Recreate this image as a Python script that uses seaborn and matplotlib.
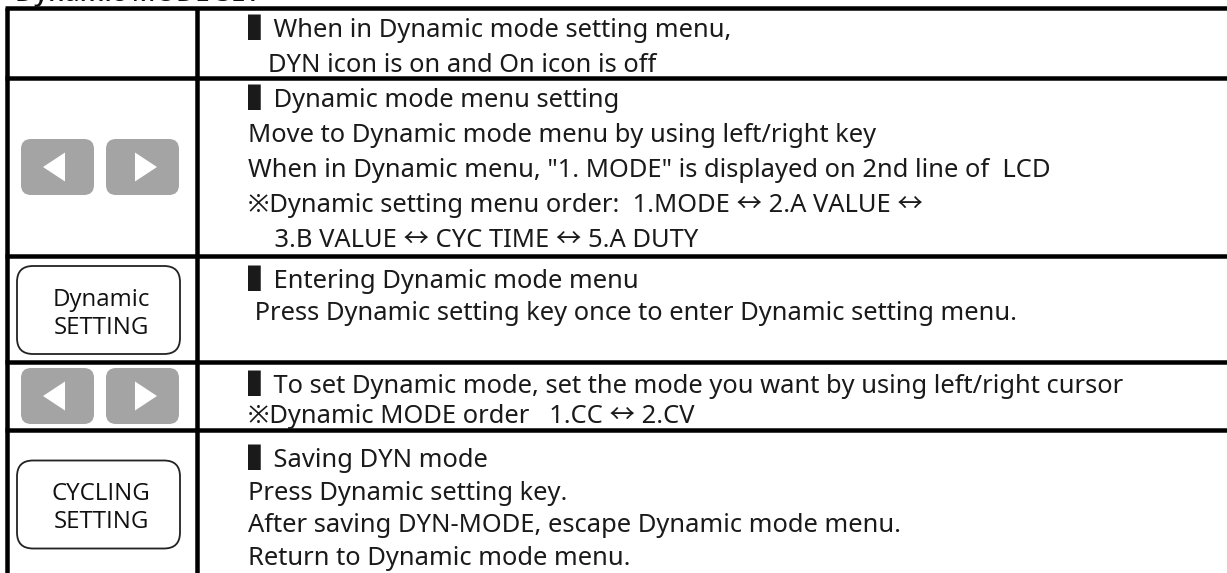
import matplotlib
matplotlib.use("Agg")
import matplotlib.pyplot as plt
from matplotlib.patches import FancyBboxPatch, Polygon
import seaborn as sns

# ---------------- content ----------------
title = "Dynamic MODE SET"
key_types = ["none", "arrows", "button", "arrows", "button"]
key_labels = ["", "", "Dynamic\nSETTING", "", "CYCLING\nSETTING"]

row1_text = ["▌When in Dynamic mode setting menu,",
             "   DYN icon is on and On icon is off"]
row2_text = ["▌Dynamic mode menu setting",
             "Move to Dynamic mode menu by using left/right key",
             "When in Dynamic menu, \"1. MODE\" is displayed on 2nd line of  LCD",
             "※Dynamic setting menu order:  1.MODE ↔ 2.A VALUE ↔",
             "    3.B VALUE ↔ CYC TIME ↔ 5.A DUTY"]
row3_text = ["▌Entering Dynamic mode menu",
             " Press Dynamic setting key once to enter Dynamic setting menu."]
row4_text = ["▌To set Dynamic mode, set the mode you want by using left/right cursor",
             "※Dynamic MODE order   1.CC ↔ 2.CV"]
row5_text = ["▌Saving DYN mode",
             "Press Dynamic setting key.",
             "After saving DYN-MODE, escape Dynamic mode menu.",
             "Return to Dynamic mode menu."]
rows_text = [row1_text, row2_text, row3_text, row4_text, row5_text]

# ---------------- layout (pixels) ----------------
W, H = 1227, 573
row_tops = [8, 78, 256, 362, 430]
first_base = [37, 107, 288, 393, 467]
line_steps = [35, 35, 32, 30, 32.7]
x_left, x_div = 7, 197
text_x = 248
lw = 4.5 * 72 / 100

sns.set_theme(style="white")
plt.rcParams['font.family'] = ['Noto Sans', 'Noto Sans CJK KR', 'DejaVu Sans']

fig = plt.figure(figsize=(W / 100, H / 100), dpi=100)
ax = fig.add_axes([0, 0, 1, 1])
ax.set_xlim(0, W)
ax.set_ylim(H, 0)
ax.axis('off')

# title (mostly cut off at top)
ax.text(15, 1, title, fontsize=26 * 0.72, family=['Open Sans', 'DejaVu Sans'],
        fontweight='semibold', va='baseline', ha='left', color='#111111')

# grid lines
for yt in row_tops:
    ax.plot([x_left - 2, W], [yt, yt], color='black', lw=lw, solid_capstyle='butt')
for xv in (x_left, x_div):
    ax.plot([xv, xv], [row_tops[0], H], color='black', lw=lw, solid_capstyle='butt')

body_fs = 25.5 * 0.72

# texts
for r, lines in enumerate(rows_text):
    for i, s in enumerate(lines):
        ax.text(text_x, first_base[r] + i * line_steps[r], s, fontsize=body_fs,
                va='baseline', ha='left', color='#1a1a1a')

# key graphics
row_bottoms = row_tops[1:] + [H + 4]
gray = '#a4a4a4'
for r, (kt, lab) in enumerate(zip(key_types, key_labels)):
    cy = (row_tops[r] + row_bottoms[r]) / 2
    if kt == 'arrows':
        bh = 56
        for bx0, direction in ((21, -1), (106, 1)):
            bw = 73
            box = FancyBboxPatch((bx0, cy - bh / 2), bw, bh,
                                 boxstyle="round,pad=0,rounding_size=10",
                                 fc=gray, ec='none')
            ax.add_patch(box)
            cx = bx0 + bw / 2
            if direction < 0:
                tri = [(cx - 14.5, cy), (cx + 7.5, cy - 14.5), (cx + 7.5, cy + 14.5)]
            else:
                tri = [(cx + 14.5, cy), (cx - 7.5, cy - 14.5), (cx - 7.5, cy + 14.5)]
            ax.add_patch(Polygon(tri, closed=True, fc='white', ec='none'))
    elif kt == 'button':
        bh = 88
        box = FancyBboxPatch((17, cy - bh / 2 + 1), 163, bh,
                             boxstyle="round,pad=0,rounding_size=16",
                             fc='white', ec='#222222', lw=1.3)
        ax.add_patch(box)
        l1, l2 = lab.split("\n")
        ax.text(101, cy + 1 - 4, l1, fontsize=24 * 0.72, family=['Open Sans', 'DejaVu Sans'],
                ha='center', va='baseline', color='#111111')
        ax.text(101, cy + 1 + 24, l2, fontsize=24 * 0.72, family=['Open Sans', 'DejaVu Sans'],
                ha='center', va='baseline', color='#111111')

fig.savefig("out.png", dpi=100)
